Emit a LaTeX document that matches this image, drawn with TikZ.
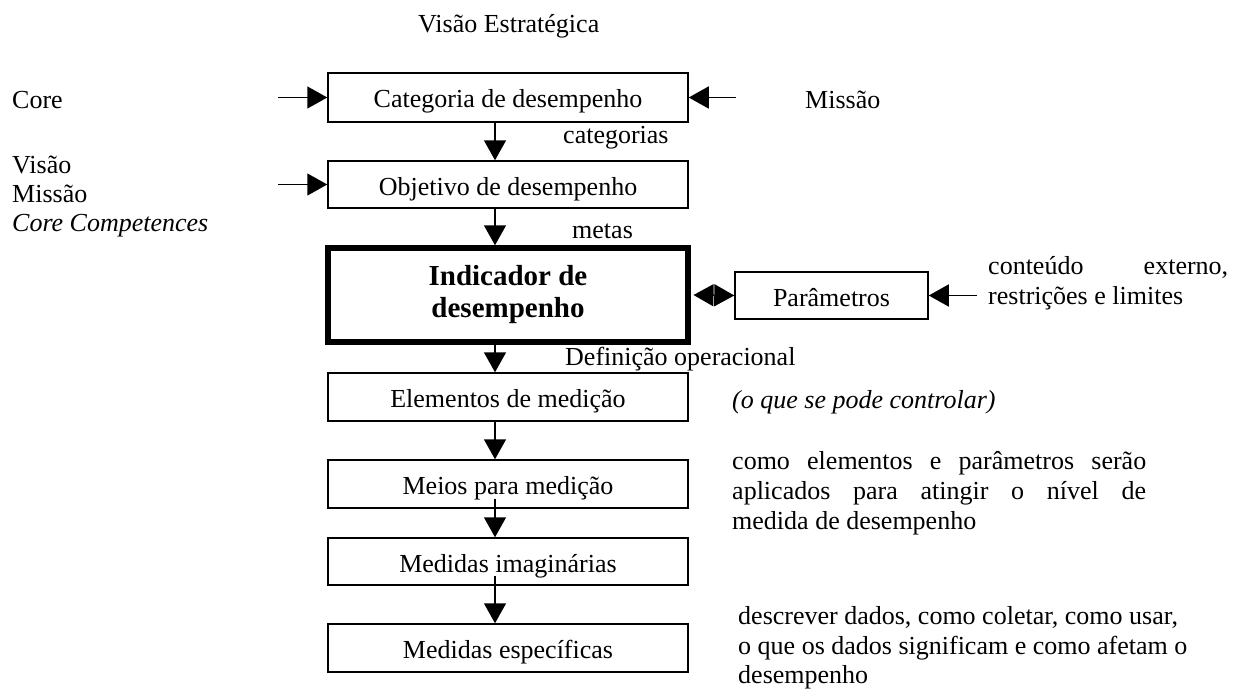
\documentclass[tikz,border=0pt]{standalone}
\usepackage{fontspec}
\setmainfont{Liberation Serif}
\usetikzlibrary{arrows.meta,calc}
\begin{document}
\begin{tikzpicture}[x=1pt,y=-1pt,
  txt/.style={inner sep=0pt, anchor=base west, font=\fontsize{26}{30}\selectfont},
  boxbase/.style={draw, line width=1.5pt, minimum width=360pt, minimum height=48pt, inner sep=0pt, font=\fontsize{26}{30}\selectfont},
  box/.style={boxbase, text height=21pt, text depth=0pt},
  arr/.style={line width=1.5pt, -{Triangle[length=20pt,width=22pt]}},
  darr/.style={line width=1.5pt, {Triangle[length=20pt,width=22pt]}-{Triangle[length=20pt,width=22pt]}}
  ]
\useasboundingbox (0,0) rectangle (1236,690);
% boxes
\node[box, minimum height=49pt] (cat) at (508,97.5) {Categoria de desempenho};
\node[box, minimum height=47pt] (obj) at (508,184.5) {Objetivo de desempenho};
\node[boxbase, line width=5.5pt, minimum height=94pt, align=center, font=\fontsize{29}{32}\selectfont\bfseries] (ind) at (508,295) {Indicador de\\desempenho};
\node[box] (ele) at (508,397) {Elementos de medição};
\node[box] (mei) at (508,484) {Meios para medição};
\node[box, minimum height=47pt] (ima) at (508,561.5) {Medidas imaginárias};
\node[box] (esp) at (508,648) {Medidas específicas};
\node[box, minimum width=193pt, minimum height=47pt] (par) at (831.5,295.5) {Parâmetros};
% arrow axis and free ends
\coordinate (ax) at (495,0);
\coordinate (c1) at (278,97.5);
\coordinate (c2) at (278,184.5);
\coordinate (c3) at (736,97.5);
\coordinate (c4) at (977,295.5);
% vertical arrows
\draw[arr] (cat.south -| ax) -- (obj.north -| ax);
\draw[arr] (obj.south -| ax) -- (ind.north -| ax);
\draw[arr] (ind.south -| ax) -- (ele.north -| ax);
\draw[arr] (ele.south -| ax) -- (mei.north -| ax);
\draw[arr] ($(mei.south -| ax)+(0,-10)$) -- (ima.north -| ax);
\draw[arr] ($(ima.south -| ax)+(0,-10)$) -- (esp.north -| ax);
% side arrows
\draw[arr] (c1) -- (cat.west);
\draw[arr] (c2) -- (obj.west);
\draw[arr] (c3) -- (cat.east);
\draw[arr] (c4) -- (par.east);
\draw[darr] ([xshift=2.75pt]ind.east) -- (par.west);
% texts
\node[txt] (tvis) at (418,33) {Visão Estratégica};
\node[txt] (tcore) at (12,109) {Core};
\node[txt] (tmis) at (805,109) {Missão};
\node[txt] (tv1) at (12,173) {Visão};
\node[txt] (tv2) at (12,202) {Missão};
\node[txt] (tv3) at (12,231) {\itshape Core Competences};
\node[txt] (tcat) at (563,143) {categorias};
\node[txt] (tmet) at (572,238) {metas};
\node[txt] (tdef) at (565,365) {Definição operacional};
\node[txt] (tp1) at (988,274) {\makebox[240pt][s]{conteúdo externo,}};
\node[txt] (tp2) at (988,304) {restrições e limites};
\node[txt] (tctl) at (732,408) {\itshape (o que se pode controlar)};
\node[txt] (tm1) at (732,469) {\makebox[414pt][s]{como elementos e parâmetros serão}};
\node[txt] (tm2) at (732,499) {\makebox[414pt][s]{aplicados para atingir o nível de}};
\node[txt] (tm3) at (732,529) {medida de desempenho};
\node[txt] (td1) at (738,624) {descrever dados, como coletar, como usar,};
\node[txt] (td2) at (738,654) {o que os dados significam e como afetam o};
\node[txt] (td3) at (738,683) {desempenho};
\end{tikzpicture}
\end{document}
